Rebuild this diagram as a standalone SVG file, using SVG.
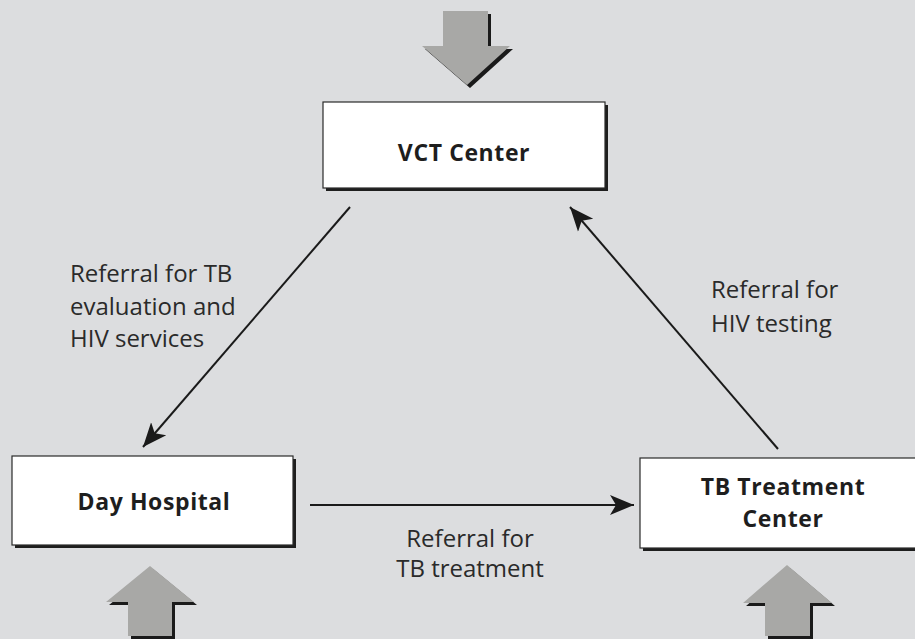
<svg xmlns="http://www.w3.org/2000/svg" width="915" height="639" viewBox="0 0 915 639">
  <style>
    .box { fill: #ffffff; stroke: #2a2a2a; stroke-width: 1.2; }
    .shadow { fill: #1e1e1e; }
    .big { fill: #a8a8a6; }
    .bigsh { fill: #1a1a1a; }
    .title { font-family: "Open Sans", "Liberation Sans", sans-serif; font-weight: bold; font-size: 23px; letter-spacing: 0.6px; fill: #1e1e1e; text-anchor: middle; }
    .lbl { font-family: "Open Sans", "Liberation Sans", sans-serif; font-size: 24px; fill: #2a2a2a; }
    .conn { stroke: #1a1a1a; stroke-width: 2; fill: none; marker-end: url(#ah); }
  </style>
  <defs>
    <marker id="ah" markerUnits="userSpaceOnUse" markerWidth="26" markerHeight="22" viewBox="0 0 26 22" refX="24" refY="11" orient="auto">
      <path d="M0,1 L24,11 L0,21 L6,11 Z" fill="#1a1a1a"/>
    </marker>
  </defs>
  <rect x="0" y="0" width="915" height="639" fill="#dcdddf"/>

  <g id="input-top">
    <path class="bigsh" d="M446,14 L491,14 L491,49 L513,49 L470,88 L425,49 L446,49 Z"/>
    <path class="big" d="M443,11 L488,11 L488,46 L510,46 L467,85 L422,46 L443,46 Z"/>
  </g>
  <g id="input-left">
    <path class="bigsh" d="M153,569 L197,605 L175,605 L175,639 L131,639 L131,605 L109,605 Z"/>
    <path class="big" d="M150,566 L194,602 L172,602 L172,636 L128,636 L128,602 L106,602 Z"/>
  </g>
  <g id="input-right">
    <path class="bigsh" d="M790,568 L835,606 L813,606 L813,639 L768,639 L768,606 L746,606 Z"/>
    <path class="big" d="M787,565 L832,603 L810,603 L810,636 L765,636 L765,603 L743,603 Z"/>
  </g>

  <g id="vct">
    <rect class="shadow" x="326" y="105" width="282" height="86"/>
    <rect class="box" x="323" y="102" width="282" height="86"/>
    <text class="title" x="464" y="161">VCT Center</text>
  </g>
  <g id="day">
    <rect class="shadow" x="15" y="459" width="281" height="89"/>
    <rect class="box" x="12" y="456" width="281" height="89"/>
    <text class="title" x="154" y="510">Day Hospital</text>
  </g>
  <g id="tb">
    <rect class="shadow" x="643" y="461" width="290" height="90"/>
    <rect class="box" x="640" y="458" width="290" height="90"/>
    <text class="title" x="783" y="495">TB Treatment</text>
    <text class="title" x="783" y="527">Center</text>
  </g>

  <g id="connectors">
    <line class="conn" x1="350" y1="207" x2="143" y2="447"/>
    <line class="conn" x1="310" y1="505" x2="634" y2="505"/>
    <line class="conn" x1="778" y1="449" x2="570" y2="207"/>
    <text class="lbl" x="70" y="282">Referral for TB</text>
    <text class="lbl" x="70" y="315">evaluation and</text>
    <text class="lbl" x="70" y="347">HIV services</text>
    <text class="lbl" x="711" y="298">Referral for</text>
    <text class="lbl" x="711" y="332">HIV testing</text>
    <text class="lbl" x="470" y="547" text-anchor="middle">Referral for</text>
    <text class="lbl" x="470" y="577" text-anchor="middle">TB treatment</text>
  </g>
</svg>
